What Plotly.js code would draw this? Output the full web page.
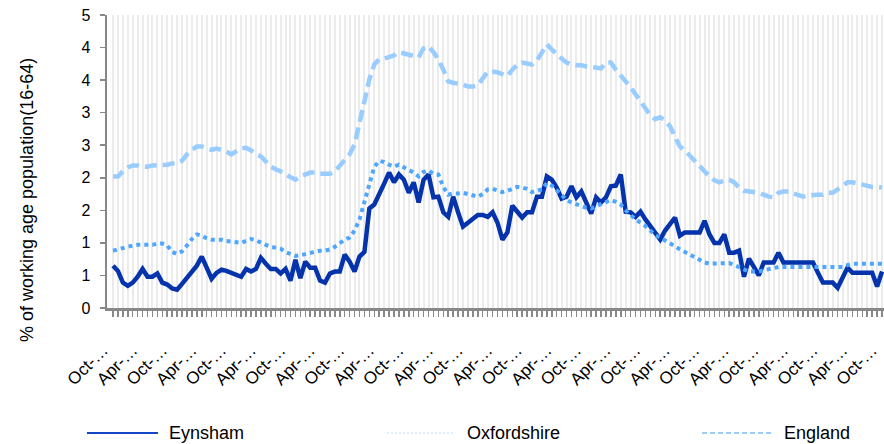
<!DOCTYPE html>
<html>
<head>
<meta charset="utf-8">
<script src="https://cdn.plot.ly/plotly-3.0.1.min.js"></script>
<style>
html,body{margin:0;padding:0;background:#fff;}
#chart{width:884px;height:444px;}
</style>
</head>
<body>
<div id="chart"></div>
<script>
// Monthly categories (labels are truncated in the chart as "Oct-…" / "Apr-…")
const monthNames = ['Jan','Feb','Mar','Apr','May','Jun','Jul','Aug','Sep','Oct','Nov','Dec'];
const categories = [];
for (let k = 0; k < 157; k++) {
  const m = (9 + k) % 12;
  const yr = 2008 + Math.floor((9 + k) / 12);
  categories.push(monthNames[m] + '-' + String(yr).slice(2));
}
const tickLabels = categories.map((c, i) => (i % 6 === 0 ? c.split('-')[0] + '-\u2026' : ''));

const yTickVals = [0, 0.5, 1, 1.5, 2, 2.5, 3, 3.5, 4, 4.5];
const yTickText = ['0', '1', '1', '2', '2', '3', '3', '4', '4', '5'];

const eynsham = [
0.65,0.57,0.39,0.34,0.39,0.48,0.60,0.48,0.48,0.53,
0.39,0.36,0.30,0.28,0.37,0.46,0.54,0.65,0.79,0.60,
0.45,0.54,0.59,0.57,0.54,0.51,0.48,0.60,0.56,0.60,
0.77,0.68,0.60,0.60,0.53,0.60,0.42,0.74,0.46,0.71,
0.62,0.62,0.42,0.39,0.53,0.56,0.56,0.82,0.71,0.56,
0.79,0.86,1.53,1.59,1.74,1.91,2.08,1.93,2.05,1.97,
1.77,1.93,1.62,1.97,2.05,1.70,1.71,1.47,1.40,1.71,
1.47,1.25,1.31,1.36,1.43,1.43,1.40,1.47,1.31,1.05,
1.16,1.57,1.48,1.39,1.47,1.47,1.71,1.71,2.02,1.97,
1.85,1.68,1.71,1.87,1.70,1.79,1.62,1.45,1.70,1.62,
1.70,1.87,1.88,2.05,1.48,1.47,1.40,1.48,1.36,1.25,
1.14,1.05,1.19,1.28,1.39,1.11,1.16,1.16,1.16,1.16,
1.34,1.13,1.00,1.00,1.13,0.85,0.85,0.88,0.48,0.76,
0.63,0.50,0.70,0.70,0.70,0.85,0.70,0.70,0.70,0.70,
0.70,0.70,0.70,0.54,0.39,0.39,0.39,0.31,0.46,0.62,
0.54,0.54,0.54,0.54,0.54,0.33,0.56
];

const oxfordshire = [
0.88,0.90,0.93,0.94,0.96,0.97,0.97,0.97,0.97,0.99,
0.99,0.96,0.86,0.83,0.87,0.96,1.06,1.13,1.11,1.07,
1.05,1.05,1.05,1.03,1.02,1.00,1.00,1.03,1.06,1.04,
1.00,0.97,0.94,0.92,0.91,0.86,0.83,0.80,0.81,0.83,
0.85,0.86,0.88,0.88,0.90,0.94,1.00,1.05,1.08,1.19,
1.36,1.62,1.90,2.17,2.26,2.24,2.20,2.17,2.20,2.16,
2.11,2.08,2.02,2.09,2.11,2.06,2.05,1.86,1.74,1.76,
1.76,1.77,1.75,1.73,1.71,1.75,1.82,1.83,1.80,1.78,
1.80,1.83,1.86,1.85,1.83,1.78,1.80,1.82,1.92,1.88,
1.81,1.73,1.66,1.62,1.59,1.56,1.54,1.53,1.56,1.59,
1.62,1.66,1.63,1.59,1.50,1.42,1.36,1.31,1.26,1.19,
1.12,1.08,1.04,1.00,0.95,0.90,0.86,0.82,0.79,0.74,
0.70,0.68,0.68,0.68,0.69,0.69,0.66,0.63,0.59,0.56,
0.56,0.56,0.58,0.60,0.62,0.63,0.63,0.63,0.63,0.63,
0.63,0.63,0.63,0.63,0.63,0.63,0.63,0.63,0.63,0.66,
0.68,0.68,0.68,0.68,0.68,0.68,0.68
];

const england = [
2.02,2.02,2.10,2.16,2.19,2.19,2.17,2.17,2.19,2.19,
2.20,2.20,2.22,2.22,2.26,2.36,2.43,2.48,2.48,2.45,
2.43,2.45,2.43,2.40,2.36,2.40,2.45,2.46,2.42,2.36,
2.33,2.25,2.17,2.13,2.10,2.05,2.00,1.97,2.02,2.05,
2.08,2.08,2.06,2.06,2.06,2.10,2.19,2.28,2.36,2.51,
2.82,3.16,3.51,3.74,3.82,3.83,3.85,3.88,3.93,3.91,
3.88,3.86,3.85,3.99,4.02,3.93,3.82,3.66,3.48,3.46,
3.45,3.43,3.40,3.40,3.42,3.54,3.63,3.63,3.62,3.59,
3.56,3.66,3.73,3.77,3.76,3.74,3.80,3.91,4.05,3.97,
3.89,3.83,3.77,3.74,3.73,3.73,3.71,3.70,3.68,3.68,
3.77,3.77,3.66,3.56,3.48,3.39,3.28,3.17,3.08,2.96,
2.90,2.93,2.88,2.79,2.63,2.48,2.42,2.34,2.25,2.17,
2.10,2.02,1.96,1.93,1.96,1.97,1.93,1.85,1.80,1.79,
1.77,1.77,1.74,1.71,1.70,1.77,1.79,1.79,1.76,1.73,
1.71,1.73,1.74,1.74,1.74,1.77,1.77,1.82,1.88,1.93,
1.93,1.91,1.90,1.88,1.86,1.86,1.85
];

const seriesNames = ['Eynsham', 'Oxfordshire', 'England'];
const colors = { eyn: '#0433AC', oxf: '#4DA6FF', eng: '#99CCFF' };

const FONT = 'Liberation Sans, Arial, sans-serif';

const traces = [
  { x: categories, y: eynsham, name: seriesNames[0], type: 'scatter', mode: 'lines',
    line: { color: colors.eyn, width: 4.5 }, showlegend: false, hoverinfo: 'skip' },
  { x: categories, y: oxfordshire, name: seriesNames[1], type: 'scatter', mode: 'lines',
    line: { color: colors.oxf, width: 4, dash: '4px,4px' }, showlegend: false, hoverinfo: 'skip' },
  { x: categories, y: england, name: seriesNames[2], type: 'scatter', mode: 'lines',
    line: { color: colors.eng, width: 4.5, dash: '12px,6px' }, showlegend: false, hoverinfo: 'skip' }
];

// pixel helpers for paper-coordinate placement of legend & axis title
const L = 107, T = 15, W = 777, H = 293;
const px = v => (v - L) / W;
const py = v => (T + H - v) / H;

const legendY = py(433);
const shapes = [
  { type: 'line', xref: 'paper', yref: 'paper', x0: px(87), x1: px(158), y0: legendY, y1: legendY,
    line: { color: '#1446C8', width: 2 } },
  { type: 'line', xref: 'paper', yref: 'paper', x0: px(387), x1: px(455), y0: legendY, y1: legendY,
    line: { color: '#d3e8ff', width: 1.5, dash: '2px,2px' } },
  { type: 'line', xref: 'paper', yref: 'paper', x0: px(702), x1: px(772), y0: legendY, y1: legendY,
    line: { color: '#99CCFF', width: 2, dash: '5px,3px' } }
];

const annotations = [
  { text: seriesNames[0], xref: 'paper', yref: 'paper', x: px(167), y: legendY, xanchor: 'left', yanchor: 'middle',
    showarrow: false, font: { family: FONT, size: 18, color: '#000' } },
  { text: seriesNames[1], xref: 'paper', yref: 'paper', x: px(465), y: legendY, xanchor: 'left', yanchor: 'middle',
    showarrow: false, font: { family: FONT, size: 18, color: '#000' } },
  { text: seriesNames[2], xref: 'paper', yref: 'paper', x: px(782), y: legendY, xanchor: 'left', yanchor: 'middle',
    showarrow: false, font: { family: FONT, size: 18, color: '#000' } },
  { text: '% of working age population(16-64)', xref: 'paper', yref: 'paper', x: px(27), y: py(200),
    xanchor: 'center', yanchor: 'middle', textangle: -90, showarrow: false,
    font: { family: FONT, size: 18, color: '#000' } }
];

const layout = {
  width: 884, height: 444,
  margin: { l: L, r: 884 - L - W, t: T, b: 444 - T - H, pad: 0 },
  paper_bgcolor: '#fff', plot_bgcolor: '#fff',
  font: { family: FONT, color: '#000' },
  showlegend: false,
  xaxis: {
    type: 'category',
    range: [-1.22, 156.4],
    tickmode: 'array', tickvals: categories, ticktext: tickLabels,
    tickangle: -45,
    tickfont: { family: FONT, size: 17, color: '#000' },
    ticks: 'outside', ticklen: 6, tickwidth: 1.5, tickcolor: '#888',
    ticklabelstandoff: 17,
    ticklabelshift: -10,
    showgrid: true, gridcolor: '#ebebeb', gridwidth: 2,
    showline: true, linecolor: '#888', linewidth: 2.5,
    zeroline: false, fixedrange: true
  },
  yaxis: {
    range: [0, 4.5],
    tickmode: 'array', tickvals: yTickVals, ticktext: yTickText,
    tickfont: { family: FONT, size: 16, color: '#000' },
    ticks: 'outside', ticklen: 5, tickwidth: 1.5, tickcolor: '#888',
    ticklabelstandoff: 6,
    showgrid: false, zeroline: false,
    showline: true, linecolor: '#888', linewidth: 2.5, fixedrange: true
  },
  shapes: shapes,
  annotations: annotations
};

Plotly.newPlot('chart', traces, layout, { displayModeBar: false, staticPlot: true });
</script>
</body>
</html>
